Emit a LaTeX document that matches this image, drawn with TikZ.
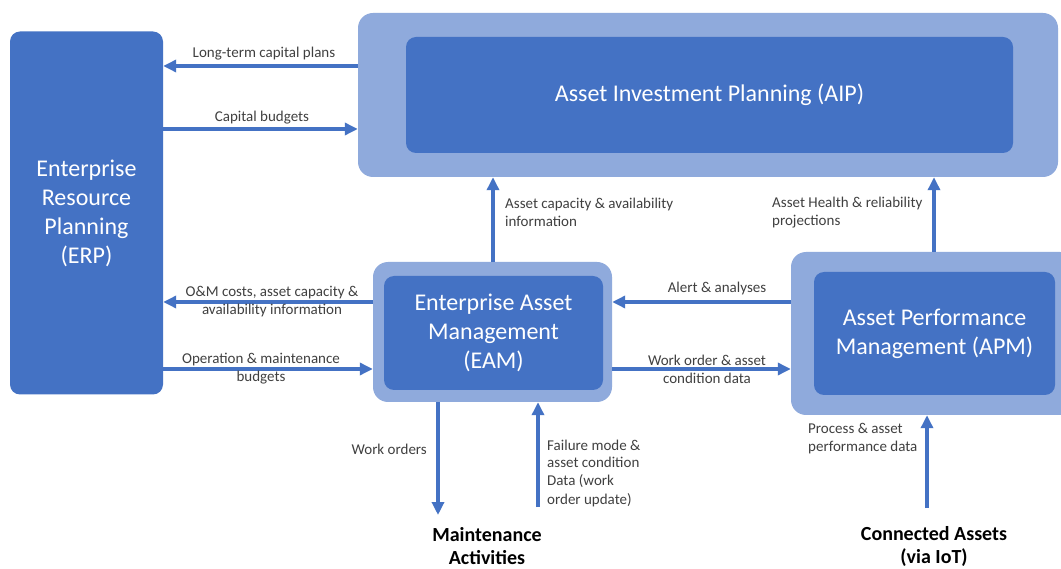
\documentclass[tikz,border=0pt]{standalone}
\usepackage{fontspec}
\setmainfont{Carlito}
\usetikzlibrary{arrows.meta,calc}
\definecolor{dblue}{HTML}{4472C4}
\definecolor{lblue}{HTML}{8FAADC}
\definecolor{lbltxt}{HTML}{404040}
\tikzset{
  outerbox/.style={fill=lblue, draw=none, rounded corners=15pt, inner sep=0pt},
  innerbox/.style={fill=dblue, draw=none, rounded corners=10pt, inner sep=0pt, text=white, font=\fontsize{24}{29}\selectfont, align=center},
  arr/.style={line width=4pt, draw=dblue, -{Triangle[length=13pt,width=12pt]}},
  lbl/.style={text=lbltxt, font=\fontsize{15}{18}\selectfont, inner sep=0pt},
  endlbl/.style={text=black, font=\bfseries\fontsize{20}{23}\selectfont, align=center, inner sep=0pt}
}
\begin{document}
\begin{tikzpicture}[x=1pt,y=-1pt]
\useasboundingbox[fill=white] (0,0) rectangle (1061,569);
% boxes
\node[innerbox, minimum width=153pt, minimum height=363pt] (erp) at (86.5,213) {Enterprise\\Resource\\Planning\\(ERP)};
\node[outerbox, minimum width=700pt, minimum height=164pt] (aipo) at (708,95) {};
\node[innerbox, minimum width=607pt, minimum height=116pt] (aip) at (709.5,95) {Asset Investment Planning (AIP)};
\node[outerbox, minimum width=239pt, minimum height=140pt] (eamo) at (492.5,332) {};
\node[innerbox, minimum width=219pt, minimum height=114pt] (eam) at (493.5,333) {Enterprise Asset\\Management\\(EAM)};
\node[outerbox, minimum width=284pt, minimum height=163pt] (apmo) at (933,333.5) {};
\node[innerbox, minimum width=241pt, minimum height=123pt] (apm) at (934.5,333.5) {Asset Performance\\Management (APM)};
% end labels
\node[endlbl] (maint) at (487,546) {Maintenance\\Activities};
\node[endlbl] (conn) at (934,546) {Connected Assets\\(via IoT)};
% free ends
\coordinate (wo) at (438,515);
\coordinate (fm) at (538,507);
\coordinate (pa) at (927,508);
% connectors
\draw[arr] ([yshift=29pt]aipo.west) -- ([yshift=29pt]aipo.west -| erp.east);
\draw[arr] ([yshift=-34pt]aipo.west -| erp.east) -- ([yshift=-34pt]aipo.west);
\draw[arr] (eamo.north -| 493,0) -- (aipo.south -| 493,0);
\draw[arr] (apmo.north -| 934,0) -- (aipo.south -| 934,0);
\draw[arr] ([yshift=30pt]eamo.west) -- ([yshift=30pt]eamo.west -| erp.east);
\draw[arr] ([yshift=-37pt]eamo.west -| erp.east) -- ([yshift=-37pt]eamo.west);
\draw[arr] ([yshift=30pt]eamo.east -| apmo.west) -- ([yshift=30pt]eamo.east);
\draw[arr] ([yshift=-37pt]eamo.east) -- ([yshift=-37pt]eamo.east -| apmo.west);
\draw[arr] (eamo.south -| wo) -- (wo);
\draw[arr] (fm) -- (eamo.south -| fm);
\draw[arr] (pa) -- (apmo.south -| pa);
% labels
\node[lbl] at (264,54) {Long-term capital plans};
\node[lbl] at (262,118) {Capital budgets};
\node[lbl, anchor=west, align=left] at (505,212) {Asset capacity \& availability\\information};
\node[lbl, anchor=west, align=left] at (772,213) {Asset Health \& reliability\\projections};
\node[lbl, align=center] at (272,302) {O\&M costs, asset capacity \&\\availability information};
\node[lbl, align=center] at (261,369) {Operation \& maintenance\\budgets};
\node[lbl] at (717,289) {Alert \& analyses};
\node[lbl, align=center] at (707,369) {Work order \& asset\\condition data};
\node[lbl, anchor=east] at (427,449) {Work orders};
\node[lbl, anchor=west, align=left] at (547,473) {Failure mode \&\\asset condition\\Data (work\\order update)};
\node[lbl, anchor=west, align=left] at (808,439) {Process \& asset\\performance data};
\end{tikzpicture}
\end{document}
